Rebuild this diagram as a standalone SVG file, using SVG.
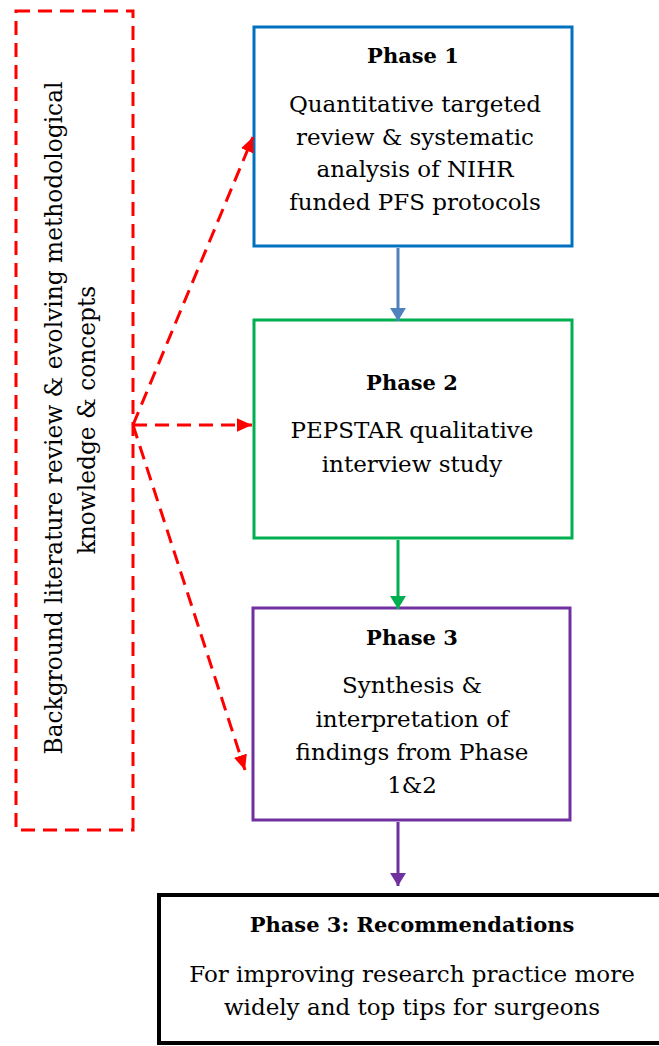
<svg xmlns="http://www.w3.org/2000/svg" width="659" height="1046" viewBox="0 0 659 1046">
  <style>
    text { font-family: "DejaVu Serif", "Liberation Serif", serif; font-size: 23px; fill: #000; text-anchor: middle; }
    .title { font-weight: bold; font-size: 21px; }
    .side { font-size: 23.3px; }
    .box { fill: #fff; stroke-width: 3; }
    .dash { fill: none; stroke: #FF0000; stroke-width: 3; stroke-dasharray: 14 8; }
    .flow { stroke-width: 3; fill: none; }
  </style>
  <defs>
    <marker id="head-red" viewBox="0 0 10 10" refX="10" refY="5" markerWidth="5" markerHeight="4.5" markerUnits="strokeWidth" orient="auto" preserveAspectRatio="none">
      <path d="M0,0 L10,5 L0,10 Z" fill="#FF0000"/>
    </marker>
    <marker id="head-blue" viewBox="0 0 10 10" refX="10" refY="5" markerWidth="4.5" markerHeight="5.5" markerUnits="strokeWidth" orient="auto" preserveAspectRatio="none">
      <path d="M0,0 L10,5 L0,10 Z" fill="#4F81BD"/>
    </marker>
    <marker id="head-green" viewBox="0 0 10 10" refX="10" refY="5" markerWidth="4.5" markerHeight="5.5" markerUnits="strokeWidth" orient="auto" preserveAspectRatio="none">
      <path d="M0,0 L10,5 L0,10 Z" fill="#00B050"/>
    </marker>
    <marker id="head-purple" viewBox="0 0 10 10" refX="10" refY="5" markerWidth="4.5" markerHeight="5.5" markerUnits="strokeWidth" orient="auto" preserveAspectRatio="none">
      <path d="M0,0 L10,5 L0,10 Z" fill="#7030A0"/>
    </marker>
  </defs>

  <rect width="659" height="1046" fill="#fff"/>

  <!-- Background knowledge side panel -->
  <g id="background">
    <rect x="16" y="11" width="117" height="819" class="dash"/>
    <text class="side" transform="translate(62,418) rotate(-90)">Background literature review &amp; evolving methodological</text>
    <text class="side" transform="translate(95,420) rotate(-90)">knowledge &amp; concepts</text>
  </g>

  <g id="phase1">
    <rect x="254" y="27" width="318" height="219" class="box" stroke="#0070C0"/>
    <text x="413" y="63" class="title">Phase 1</text>
    <text x="415" y="112">Quantitative targeted</text>
    <text x="415" y="145">review &amp; systematic</text>
    <text x="415" y="177">analysis of NIHR</text>
    <text x="415" y="210">funded PFS protocols</text>
  </g>

  <g id="phase2">
    <rect x="254" y="320" width="318" height="218" class="box" stroke="#00B050"/>
    <text x="412" y="390" class="title">Phase 2</text>
    <text x="412" y="438">PEPSTAR qualitative</text>
    <text x="412" y="472">interview study</text>
  </g>

  <g id="phase3">
    <rect x="253" y="608" width="317" height="212" class="box" stroke="#7030A0"/>
    <text x="412" y="645" class="title">Phase 3</text>
    <text x="412" y="693">Synthesis &amp;</text>
    <text x="412" y="727">interpretation of</text>
    <text x="412" y="760">findings from Phase</text>
    <text x="412" y="793">1&amp;2</text>
  </g>

  <g id="recommendations">
    <rect x="159" y="895" width="506" height="148" fill="#fff" stroke="#000" stroke-width="4"/>
    <text x="412" y="932" class="title">Phase 3: Recommendations</text>
    <text x="412" y="982">For improving research practice more</text>
    <text x="412" y="1015">widely and top tips for surgeons</text>
  </g>

  <g id="connectors">
    <line x1="398" y1="248" x2="398" y2="321" class="flow" stroke="#4F81BD" marker-end="url(#head-blue)"/>
    <line x1="398" y1="540" x2="398" y2="609" class="flow" stroke="#00B050" marker-end="url(#head-green)"/>
    <line x1="398" y1="822" x2="398" y2="886" class="flow" stroke="#7030A0" marker-end="url(#head-purple)"/>
    <line x1="133" y1="425" x2="253" y2="137" class="dash" marker-end="url(#head-red)"/>
    <line x1="133" y1="425" x2="252" y2="425" class="dash" marker-end="url(#head-red)"/>
    <line x1="133" y1="425" x2="245" y2="770" class="dash" marker-end="url(#head-red)"/>
  </g>
</svg>
